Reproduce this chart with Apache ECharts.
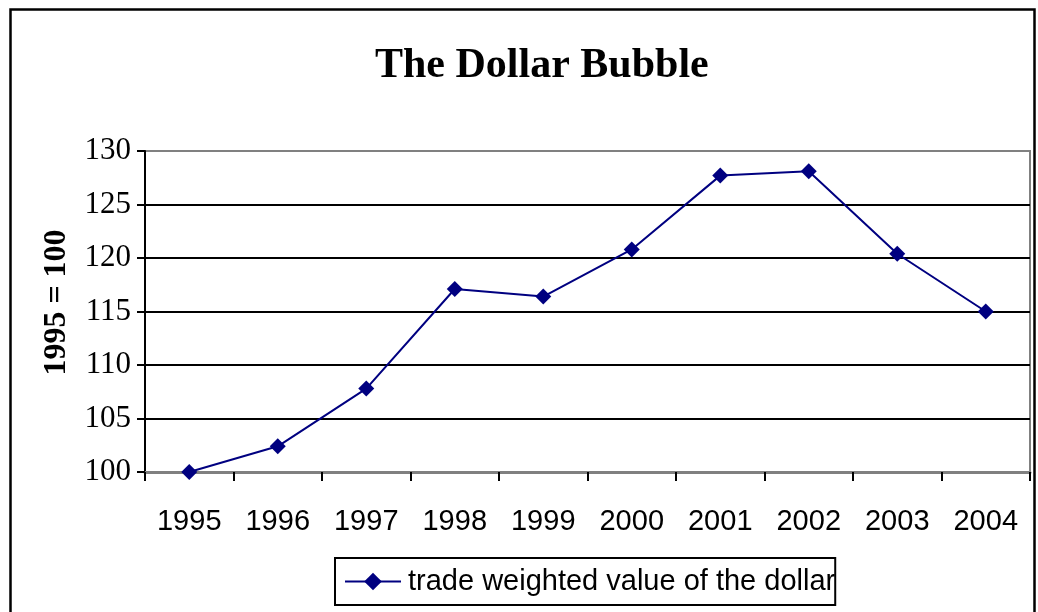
<!DOCTYPE html>
<html>
<head>
<meta charset="utf-8">
<script src="https://cdn.jsdelivr.net/npm/echarts@6/dist/echarts.min.js"></script>
<style>
html,body{margin:0;padding:0;background:#fff;}
#c{width:1038px;height:612px;}
</style>
</head>
<body>
<div id="c"></div>
<script>
var years = ['1995','1996','1997','1998','1999','2000','2001','2002','2003','2004'];
var dollarValues = [100, 102.4, 107.8, 117.1, 116.4, 120.8, 127.7, 128.1, 120.4, 115.0];
var seriesName = 'trade weighted value of the dollar';
var yMin = 100, yMax = 130, yStep = 5;

var chart = echarts.init(document.getElementById('c'), null, {renderer:'canvas'});
chart.setOption({
  animation: false,
  backgroundColor: '#fff',
  graphic: [{
    type: 'rect', left: 8, top: 7, z: 100, silent: true,
    shape: {width: 1024, height: 640},
    style: {fill: 'none', stroke: '#000', lineWidth: 2.5}
  }],
  title: {
    text: 'The Dollar Bubble',
    left: 370, top: 40,
    textStyle: {fontFamily: 'Liberation Serif', fontWeight: 'bold', fontSize: 42, color: '#000'}
  },
  legend: {
    left: 335, top: 558,
    padding: [9, 0, 9, 9],
    borderColor: '#000', borderWidth: 2,
    itemWidth: 56, itemHeight: 22, itemGap: 0,
    textStyle: {fontFamily: 'Liberation Sans', fontSize: 29, color: '#000', padding: [0,0,0,2]},
    data: [seriesName]
  },
  grid: {
    left: 145, top: 151, right: 8, bottom: 140,
    show: true, borderColor: '#808080', borderWidth: 2, backgroundColor: '#fff'
  },
  xAxis: {
    type: 'category', data: years, boundaryGap: true,
    axisLine: {lineStyle: {color: '#808080', width: 3}},
    axisTick: {show: true, length: 9, lineStyle: {color: '#000', width: 2}},
    axisLabel: {fontFamily: 'Liberation Sans', fontSize: 29, color: '#000', margin: 35, interval: 0}
  },
  yAxis: {
    type: 'value', min: yMin, max: yMax, interval: yStep,
    name: '1995 = 100', nameLocation: 'middle', nameRotate: 90, nameGap: 72,
    nameTextStyle: {fontFamily: 'Liberation Serif', fontWeight: 'bold', fontSize: 32, color: '#000', padding: [0,0,0,18]},
    axisLine: {show: true, lineStyle: {color: '#000', width: 2}},
    axisTick: {show: true, length: 8, lineStyle: {color: '#000', width: 2}},
    axisLabel: {fontFamily: 'Liberation Serif', fontSize: 31, color: '#000', margin: 14},
    splitLine: {show: true, showMinLine: false, showMaxLine: false, lineStyle: {color: '#000', width: 2}}
  },
  series: [{
    name: seriesName, type: 'line', data: dollarValues,
    symbol: 'diamond', symbolSize: 16,
    lineStyle: {color: '#000080', width: 2},
    itemStyle: {color: '#000080'}
  }]
});
</script>
</body>
</html>
